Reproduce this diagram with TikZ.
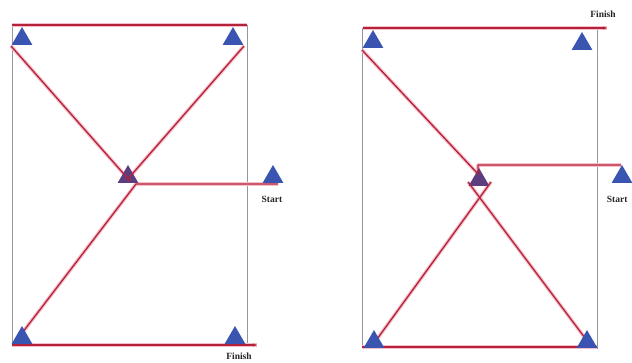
\documentclass[tikz,border=0pt]{standalone}
\usepackage{fontspec}
\setmainfont{Liberation Serif}
\usetikzlibrary{shapes.geometric,arrows.meta}
\definecolor{triblue}{RGB}{58,84,178}
\definecolor{trimid}{RGB}{92,62,128}
\definecolor{routec}{RGB}{180,34,58}
\definecolor{haloc}{RGB}{246,190,202}
\definecolor{framec}{RGB}{150,150,160}
\begin{document}
\begin{tikzpicture}[x=1pt,y=-1pt,
  tri/.style={regular polygon,regular polygon sides=3,minimum size=24pt,inner sep=0pt,fill=triblue,draw=none},
  midtri/.style={tri,fill=trimid},
  box/.style={draw=framec,line width=0.6pt},
  halo/.style={draw=haloc,line width=3.6pt,line join=round},
  route/.style={draw=routec,line width=1.3pt,line join=round},
  finarrow/.style={-{Stealth[length=4pt,width=3pt]}},
  lbl/.style={font=\fontsize{9.5}{11}\selectfont\bfseries,text=black!85}]
\useasboundingbox (0,0) rectangle (632,363);
\fill[white] (0,0) rectangle (632,363);

% ---------- left diagram ----------
\draw[box] (12,25) rectangle (247,345);
\coordinate (lTopA) at (12,25);
\coordinate (lTopB) at (247,25);
\coordinate (lTLd) at (11,46);
\coordinate (lTRd) at (244,46);
\coordinate (lMidA) at (130,181);
\coordinate (lMidB) at (127,180);
\coordinate (lCorner) at (136,184);
\coordinate (lStartEnd) at (278,184);
\coordinate (lBL) at (16,341);
\coordinate (lBotA) at (12,345);
\coordinate (lBotB) at (257,345);

\foreach \a/\b in {lTopA/lTopB,lTLd/lMidA,lTRd/lMidB,lBotA/lBotB}
  \draw[halo] (\a) -- (\b);
\draw[halo] (lStartEnd) -- (lCorner) -- (lBL);

\node[midtri] (lC) at (128,177) {};
\draw[route] (lTopA) -- (lTopB);
\draw[route] (lTLd) -- (lMidA);
\draw[route] (lTRd) -- (lMidB);
\draw[route] (lStartEnd) -- (lCorner) -- (lBL);
\draw[route,finarrow] (lBotA) -- (lBotB);

\node[tri] (lTL) at (22,39) {};
\node[tri] (lTR) at (233,39) {};
\node[tri] (lS) at (273,177) {};
\node[tri] (lBLt) at (22,338) {};
\node[tri] (lBR) at (235,338) {};
\node[lbl] (lStart) at (272,199) {Start};
\node[lbl] (lFinish) at (239,356) {Finish};

% ---------- right diagram ----------
\draw[box] (362,28) rectangle (597,348);
\coordinate (rTopA) at (363,28);
\coordinate (rTopB) at (607,28);
\coordinate (rTLd) at (362,50);
\coordinate (rMid) at (478,174);
\coordinate (rUp) at (478,165);
\coordinate (rStartEnd) at (621,165);
\coordinate (rBLd) at (372,346);
\coordinate (rBRd) at (591,346);
\coordinate (rXa) at (491,182);
\coordinate (rXb) at (468,182);
\coordinate (rBotA) at (362,347);
\coordinate (rBotB) at (597,347);

\draw[halo] (rTopA) -- (rTopB);
\draw[halo] (rTLd) -- (rMid) -- (rUp) -- (rStartEnd);
\draw[halo] (rBLd) -- (rXa);
\draw[halo] (rBRd) -- (rXb);
\draw[halo] (rBotA) -- (rBotB);

\node[midtri] (rC) at (479,180) {};
\draw[route,finarrow] (rTopA) -- (rTopB);
\draw[route] (rTLd) -- (rMid) -- (rUp) -- (rStartEnd);
\draw[route] (rBLd) -- (rXa);
\draw[route] (rBRd) -- (rXb);
\draw[route] (rBotA) -- (rBotB);

\node[tri] (rTL) at (373,42) {};
\node[tri] (rTR) at (582,44) {};
\node[tri] (rS) at (622,177) {};
\node[tri] (rBL) at (374,342) {};
\node[tri] (rBR) at (587,342) {};
\node[lbl,anchor=east] (rStart) at (631,199) {Start};
\node[lbl] (rFinish) at (603,14) {Finish};
\end{tikzpicture}
\end{document}
